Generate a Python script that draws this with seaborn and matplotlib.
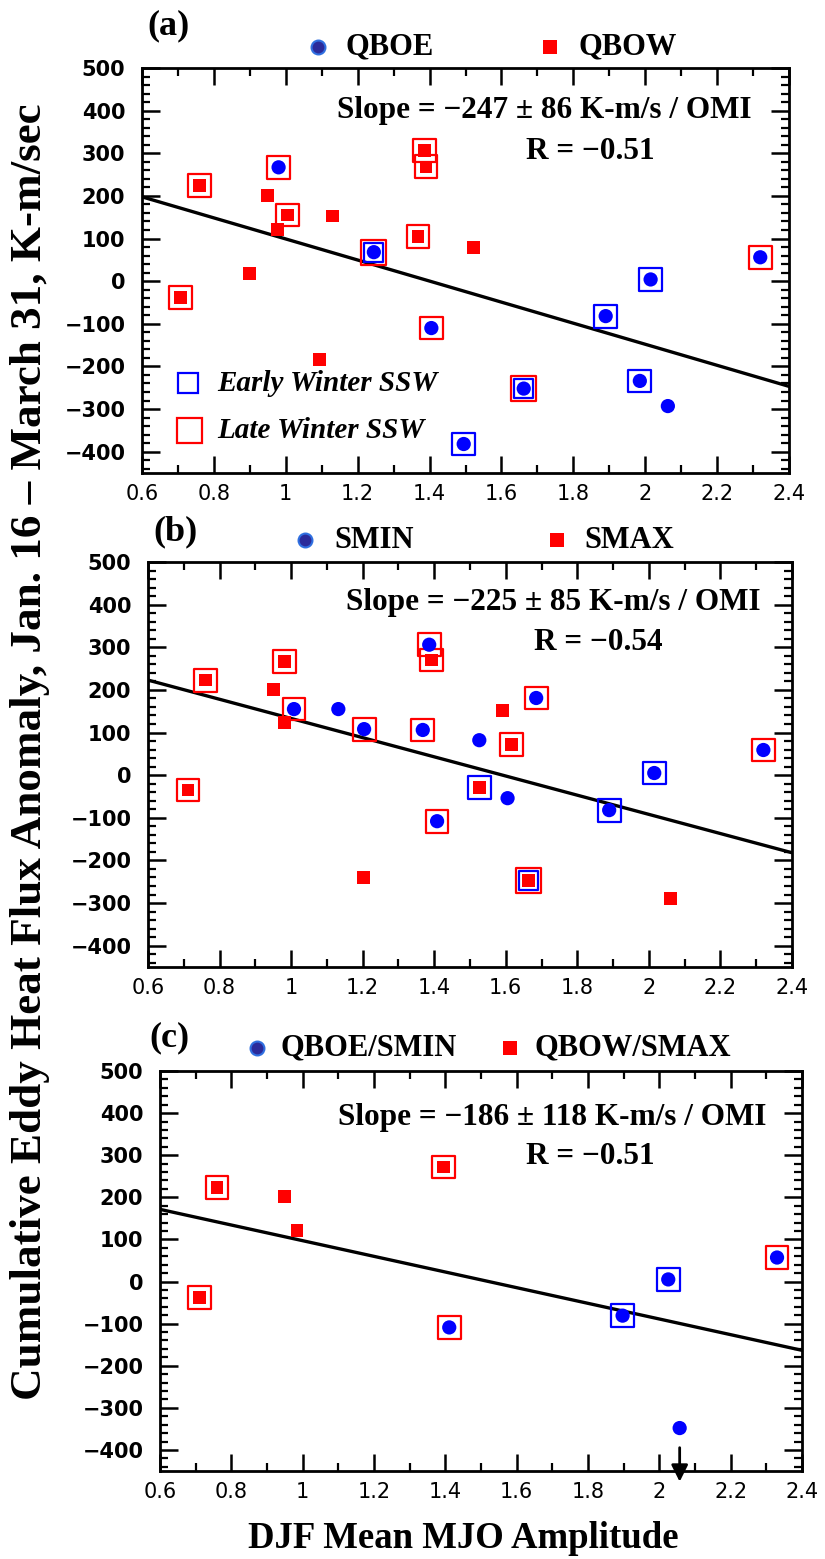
import numpy as np
import pandas as pd
import matplotlib
matplotlib.use("Agg")
import matplotlib.pyplot as plt
import seaborn as sns
from matplotlib.ticker import MultipleLocator, FuncFormatter

sns.set_theme(style="white")
plt.rcParams['font.family'] = ['DejaVu Sans']
plt.rcParams['text.color'] = 'black'
plt.rcParams['axes.labelcolor'] = 'black'
plt.rcParams['xtick.color'] = 'black'
plt.rcParams['ytick.color'] = 'black'

# ---------------- data ----------------
# panel (a): QBO phase
a_x = [0.98, 0.76, 0.95, 1.005, 0.978, 1.13, 1.385, 1.39, 1.368, 1.522, 1.245,
       0.90, 0.707, 2.32, 2.015, 1.89, 1.405, 1.094, 1.662, 1.985, 2.063, 1.495]
a_y = [267, 224, 200, 155, 121, 153, 306, 268, 105, 79, 68,
       18, -38, 56, 4, -82, -110, -183, -252, -234, -293, -382]
a_grp = ['E', 'W', 'W', 'W', 'W', 'W', 'W', 'W', 'W', 'W', 'E',
         'W', 'W', 'E', 'E', 'E', 'E', 'W', 'E', 'E', 'E', 'E']
a_box = ['late', 'late', '', 'late', '', '', 'late', 'late', 'late', '', 'both',
         '', 'late', 'late', 'early', 'early', 'late', '', 'both', 'early', '', 'early']

# panel (b): solar cycle
b_x = [1.386, 1.392, 0.982, 0.761, 0.95, 1.008, 0.982, 1.132, 1.204, 1.368, 1.526, 1.685,
       1.591, 1.617, 2.32, 2.015, 0.712, 1.526, 1.605, 1.889, 1.408, 1.202, 1.664, 2.061]
b_y = [306, 270, 267, 223, 200, 155, 124, 155, 108, 106, 82, 181,
       151, 71, 59, 5, -35, -29, -54, -82, -108, -241, -247, -289]
b_grp = ['E', 'W', 'W', 'W', 'W', 'E', 'W', 'E', 'E', 'E', 'E', 'E',
         'W', 'W', 'E', 'E', 'W', 'W', 'E', 'E', 'E', 'W', 'W', 'W']
b_box = ['late', 'late', 'late', 'late', '', 'late', '', '', 'late', 'late', '', 'late',
         '', 'late', 'late', 'early', 'late', 'early', '', 'early', 'late', '', 'both', '']

# panel (c): combined QBOE/SMIN and QBOW/SMAX
c_x = [1.395, 0.76, 0.95, 0.984, 0.71, 2.33, 2.025, 1.897, 1.411, 2.057]
c_y = [272, 224, 201, 122, -37, 57, 5, -81, -109, -348]
c_grp = ['W', 'W', 'W', 'W', 'W', 'E', 'E', 'E', 'E', 'E']
c_box = ['late', 'late', '', '', 'late', 'late', 'early', 'early', 'late', '']

# regression lines (slope, intercept)
a_fit = (-247, 346)
b_fit = (-225, 358)
c_fit = (-186, 283)

a_names = ('QBOE', 'QBOW')
b_names = ('SMIN', 'SMAX')
c_names = ('QBOE/SMIN', 'QBOW/SMAX')

a_stats = ('Slope = \u2212247 \u00b1 86 K-m/s / OMI', 'R = \u22120.51')
b_stats = ('Slope = \u2212225 \u00b1 85 K-m/s / OMI', 'R = \u22120.54')
c_stats = ('Slope = \u2212186 \u00b1 118 K-m/s / OMI', 'R = \u22120.51')

x_lim = (0.6, 2.4)
y_lim = (-450, 500)
y_ticks = [-400, -300, -200, -100, 0, 100, 200, 300, 400, 500]
x_ticks = [0.6, 0.8, 1.0, 1.2, 1.4, 1.6, 1.8, 2.0, 2.2, 2.4]

# ---------------- figure ----------------
W, H = 825, 1559
fig = plt.figure(figsize=(W / 100, H / 100), dpi=100)


def rect(l, r, t, b):
    return [l / W, 1 - b / H, (r - l) / W, (b - t) / H]


ax_a = fig.add_axes(rect(142, 789, 68, 473))
ax_b = fig.add_axes(rect(148, 792, 562, 967))
ax_c = fig.add_axes(rect(160, 802, 1071, 1471))

BLUE = '#0000ff'
RED = '#ff0000'
SERIF = 'Liberation Serif'


def draw_panel(ax, xs, ys, grp, box, fit, names, stats, label, pos):
    df = pd.DataFrame({'x': xs, 'y': ys, 'grp': grp, 'box': box})
    # regression line
    lx = np.array(x_lim)
    ldf = pd.DataFrame({'x': lx, 'y': fit[1] + fit[0] * lx})
    sns.lineplot(data=ldf, x='x', y='y', color='black', lw=2.4, ax=ax, zorder=2)
    # open boxes
    early = df[df['box'] == 'early']
    late = df[df['box'] == 'late']
    both = df[df['box'] == 'both']
    box_kw = dict(marker='s', facecolor='none', linewidth=1.6, legend=False, ax=ax, zorder=3)
    sns.scatterplot(data=early, x='x', y='y', s=270, edgecolor=BLUE, **box_kw)
    sns.scatterplot(data=late, x='x', y='y', s=270, edgecolor=RED, **box_kw)
    sns.scatterplot(data=both, x='x', y='y', s=190, edgecolor=BLUE, **box_kw)
    sns.scatterplot(data=both, x='x', y='y', s=330, edgecolor=RED, **box_kw)
    # filled points
    sns.scatterplot(data=df[df['grp'] == 'E'], x='x', y='y', marker='o', s=105,
                    color=BLUE, edgecolor='none', legend=False, ax=ax, zorder=4)
    sns.scatterplot(data=df[df['grp'] == 'W'], x='x', y='y', marker='s', s=85,
                    color=RED, edgecolor='none', legend=False, ax=ax, zorder=4)

    ax.set_xlim(*x_lim)
    ax.set_ylim(*y_lim)
    ax.set_xlabel('')
    ax.set_ylabel('')
    ax.set_xticks(x_ticks)
    ax.set_yticks(y_ticks)
    ax.xaxis.set_minor_locator(MultipleLocator(0.1))
    ax.yaxis.set_minor_locator(MultipleLocator(20))
    ax.xaxis.set_major_formatter(FuncFormatter(lambda v, p: f'{v:g}'))
    ax.tick_params(axis='both', which='both', direction='in', top=True, right=True,
                   bottom=True, left=True, color='black', labelcolor='black')
    ax.tick_params(axis='x', which='major', length=12, width=1.8, pad=8)
    ax.tick_params(axis='x', which='minor', length=6, width=1.6)
    ax.tick_params(axis='y', which='major', length=13, width=1.8, pad=12)
    ax.tick_params(axis='y', which='minor', length=6, width=1.6)
    for t in ax.get_xticklabels():
        t.set_fontfamily('DejaVu Sans')
        t.set_fontsize(15)
    for t in ax.get_yticklabels():
        t.set_fontfamily('DejaVu Sans')
        t.set_fontweight('bold')
        t.set_fontsize(15)
    for sp in ax.spines.values():
        sp.set_visible(True)
        sp.set_color('black')
        sp.set_linewidth(2.0)

    # stats text
    ax.text(pos['slope'][0], pos['slope'][1], stats[0], transform=ax.transAxes,
            ha='center', va='center', fontsize=22.5, fontweight='bold', family=SERIF)
    ax.text(pos['r'][0], pos['r'][1], stats[1], transform=ax.transAxes,
            ha='center', va='center', fontsize=22.5, fontweight='bold', family=SERIF)
    # panel label
    ax.text(pos['lab'][0], pos['lab'][1], label, transform=ax.transAxes,
            ha='left', va='center', fontsize=26, fontweight='bold', family=SERIF)
    # group legend above axes
    ax.plot([pos['m1'][0]], [pos['m1'][1]], marker='o', ms=10, mfc='#2a2a9a',
            mec='#2f6fe0', mew=1.5, transform=ax.transAxes, clip_on=False, ls='none')
    ax.text(pos['t1'], pos['m1'][1], names[0], transform=ax.transAxes,
            ha='left', va='center', fontsize=22, fontweight='bold', family=SERIF)
    ax.plot([pos['m2'][0]], [pos['m2'][1]], marker='s', ms=10, mfc=RED,
            mec=RED, mew=0, transform=ax.transAxes, clip_on=False, ls='none')
    ax.text(pos['t2'], pos['m2'][1], names[1], transform=ax.transAxes,
            ha='left', va='center', fontsize=22, fontweight='bold', family=SERIF)


draw_panel(ax_a, a_x, a_y, a_grp, a_box, a_fit, a_names, a_stats, '(a)',
           dict(slope=(0.621, 0.896), r=(0.693, 0.793), lab=(0.008, 1.104),
                m1=(0.272, 1.052), t1=0.314, m2=(0.631, 1.052), t2=0.675))
draw_panel(ax_b, b_x, b_y, b_grp, b_box, b_fit, b_names, b_stats, '(b)',
           dict(slope=(0.629, 0.899), r=(0.700, 0.800), lab=(0.008, 1.074),
                m1=(0.244, 1.054), t1=0.289, m2=(0.635, 1.054), t2=0.677))
draw_panel(ax_c, c_x, c_y, c_grp, c_box, c_fit, c_names, c_stats, '(c)',
           dict(slope=(0.611, 0.8825), r=(0.670, 0.785), lab=(-0.016, 1.083),
                m1=(0.151, 1.058), t1=0.187, m2=(0.545, 1.058), t2=0.584))

# SSW legend in panel (a)
ax_a.plot([0.071], [0.222], marker='s', ms=15, mfc='none', mec=BLUE, mew=1.6,
          transform=ax_a.transAxes, ls='none')
ax_a.text(0.117, 0.222, 'Early Winter SSW', transform=ax_a.transAxes, ha='left',
          va='center', fontsize=21, fontweight='bold', style='italic', family=SERIF)
ax_a.plot([0.073], [0.106], marker='s', ms=18, mfc='none', mec=RED, mew=1.6,
          transform=ax_a.transAxes, ls='none')
ax_a.text(0.117, 0.106, 'Late Winter SSW', transform=ax_a.transAxes, ha='left',
          va='center', fontsize=21, fontweight='bold', style='italic', family=SERIF)

# off-scale arrow in panel (c)
ax_c.annotate('', xy=(c_x[-1], -482), xytext=(c_x[-1], -388),
              arrowprops=dict(arrowstyle='-|>', color='black', lw=2.0, mutation_scale=25),
              annotation_clip=False)

# axis titles
fig.text(30 / W, 1 - 752 / H,
         'Cumulative Eddy Heat Flux Anomaly, Jan. 16 \u2013 March 31, K-m/sec',
         rotation=90, ha='center', va='center', fontsize=32.5, fontweight='bold', family=SERIF)
fig.text(463 / W, 1 - 1538 / H, 'DJF Mean MJO Amplitude', ha='center', va='center',
         fontsize=26.5, fontweight='bold', family=SERIF)

fig.savefig('out.png', dpi=100)
